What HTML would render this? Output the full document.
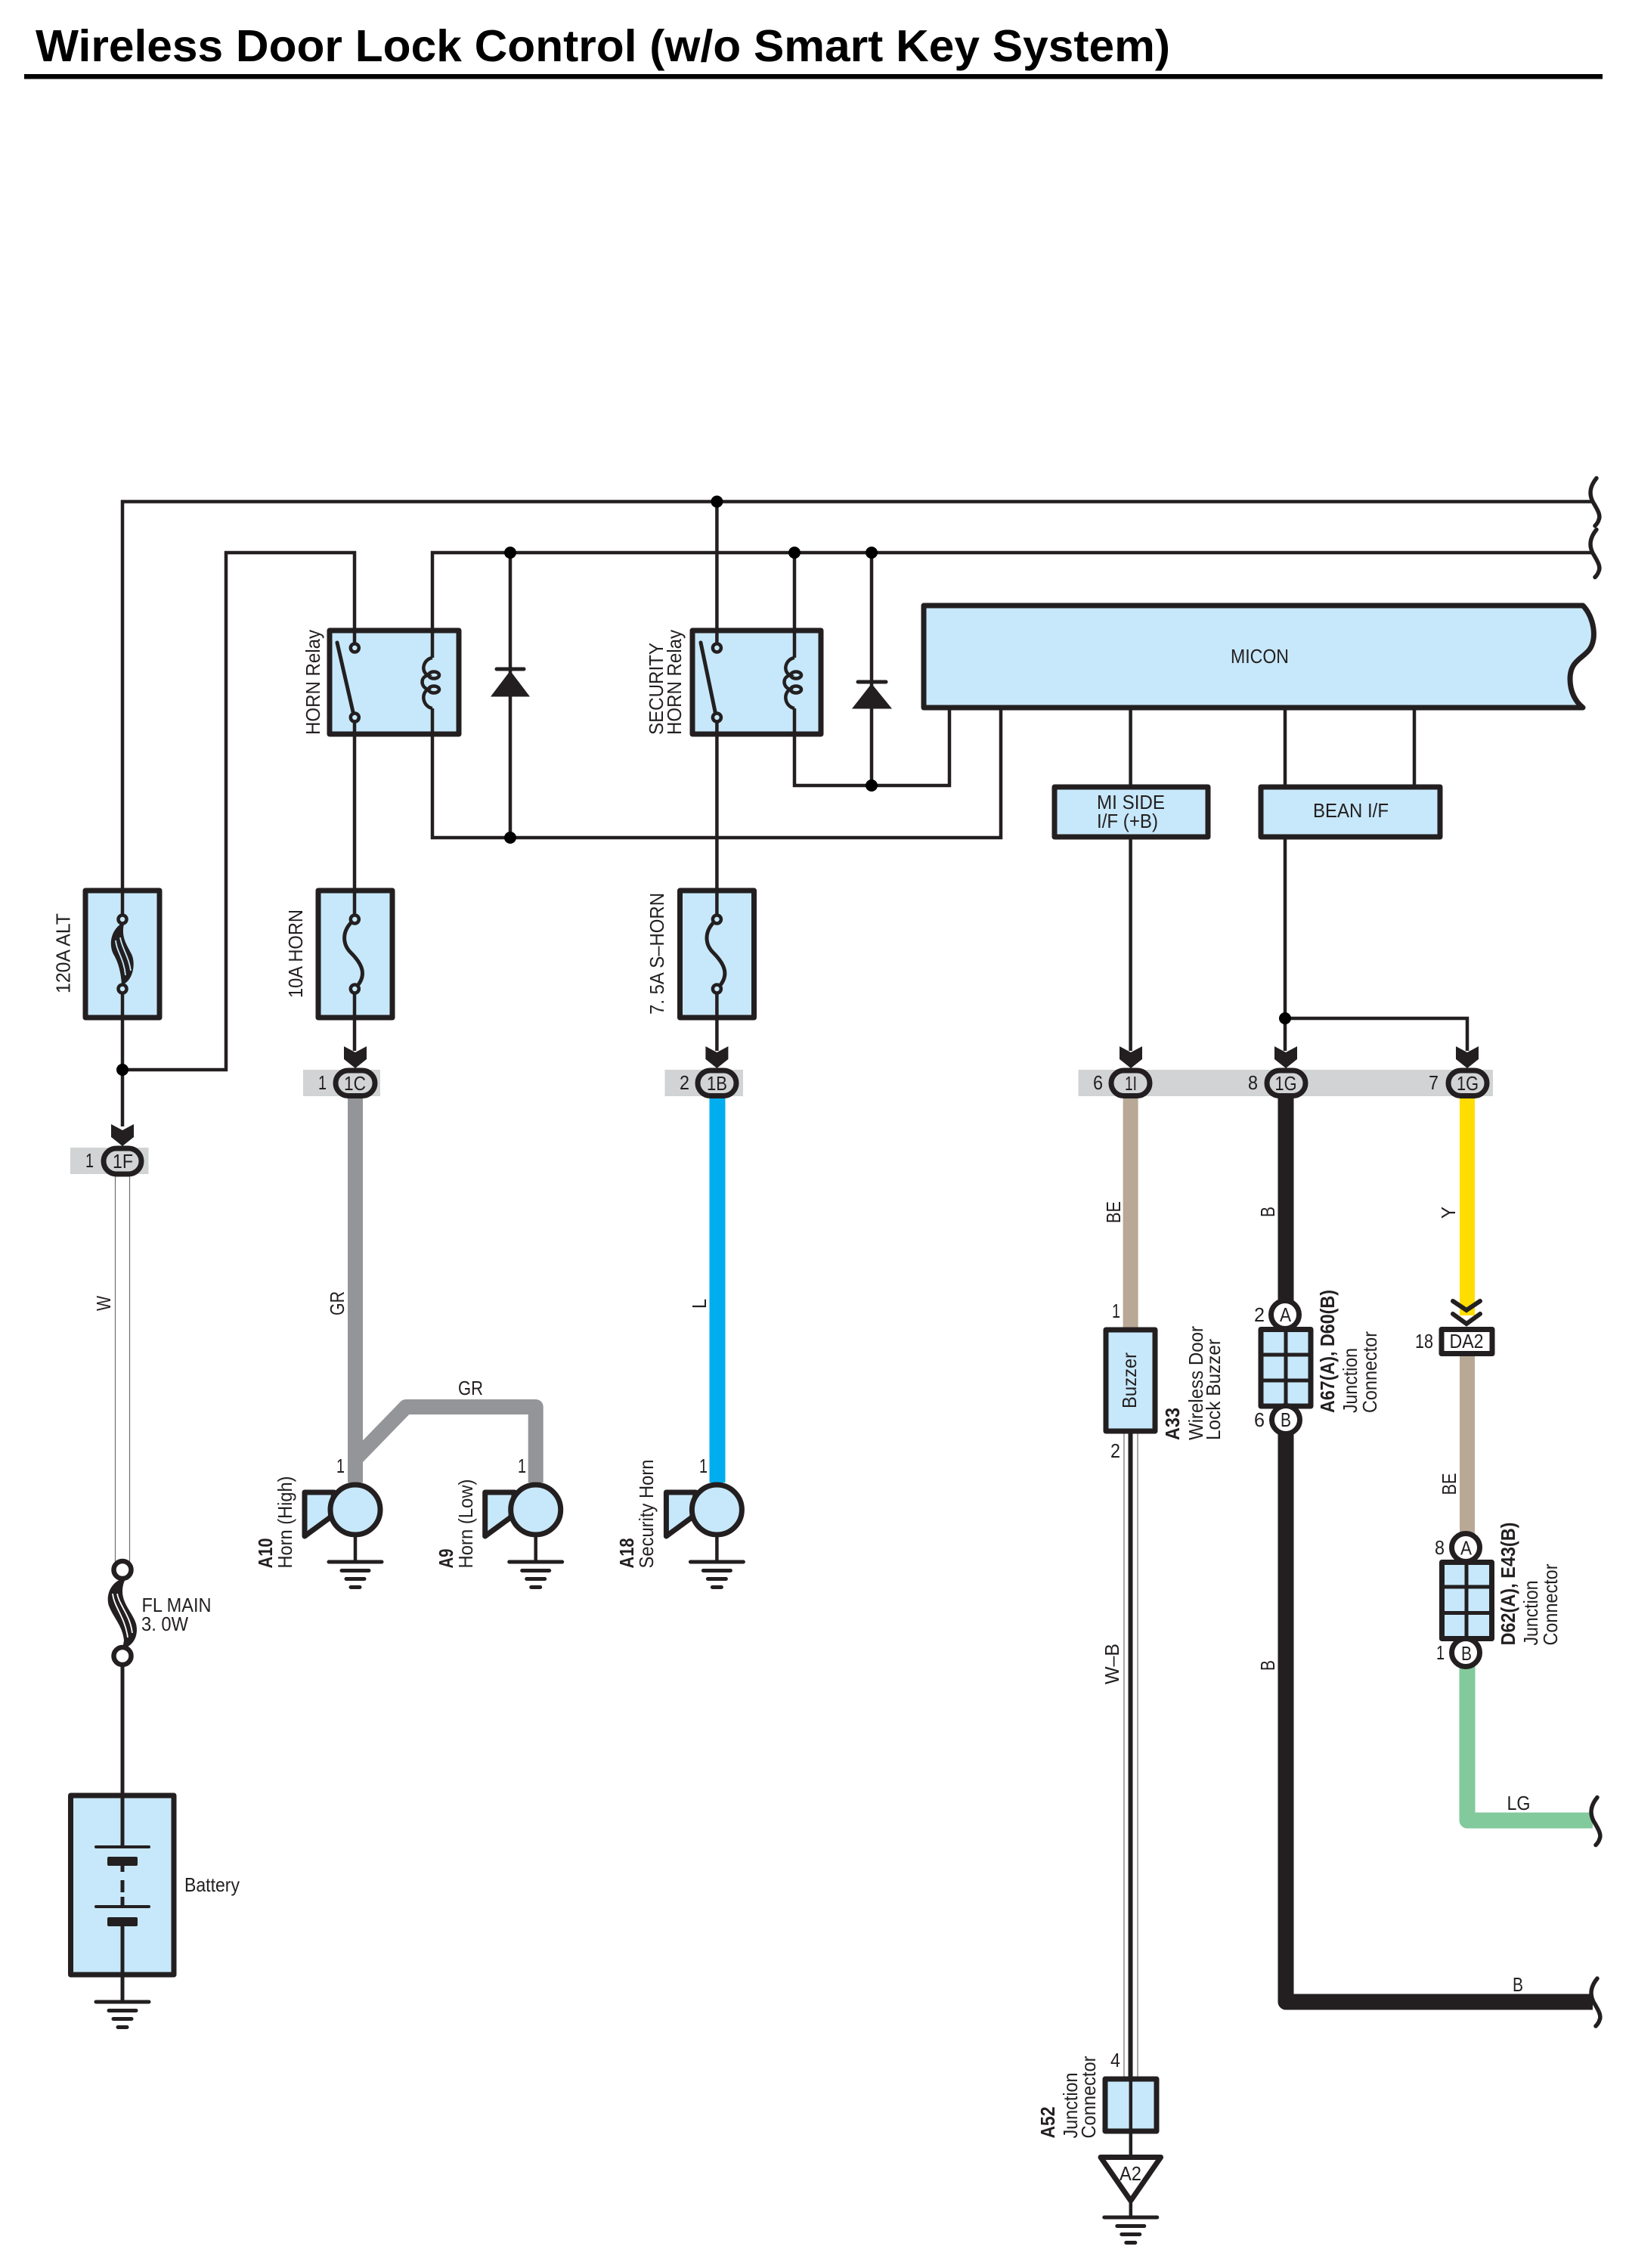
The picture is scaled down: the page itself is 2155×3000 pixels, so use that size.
<!DOCTYPE html>
<html><head><meta charset="utf-8"><title>Wireless Door Lock Control</title>
<style>
html,body{margin:0;padding:0;background:#fff}
svg{display:block}
text{font-family:"Liberation Sans",sans-serif;font-size:26px;fill:#231f20}
.b{font-weight:bold}
.w{fill:none;stroke:#231f20;stroke-width:4.500;stroke-linejoin:miter}
.box{fill:#c7e8fa;stroke:#231f20;stroke-width:7;stroke-linejoin:round}
.wb{fill:#fff;stroke:#231f20;stroke-width:7;stroke-linejoin:round}
.pill{fill:#d1d3d4;stroke:#231f20;stroke-width:7}
.t{fill:#c7e8fa;stroke:#231f20;stroke-width:4.500}
.br{fill:none;stroke:#231f20;stroke-width:5.500;stroke-linecap:round}
</style></head><body>
<svg width="2155" height="3000" viewBox="0 0 2155 3000" xmlns="http://www.w3.org/2000/svg">
<defs>
<g id="gnd" fill="none" stroke="#231f20" stroke-width="5" stroke-linecap="round">
<path d="M-35 0H35M-18 11.500H18M-12 22.500H12M-6 33.500H6"/>
</g>
<polygon id="arr" points="-15,0 0,8 15,0 15,17 0,29 -15,17" fill="#231f20"/>
<path id="brk" class="br" d="M2 -31C-7 -20 -8 -10 -3 0C3 10 8 18 5 24C4 28 2 30 0 32"/>
<g id="horn">
<polygon points="-67,-23 -28,-23 -33,10 -67,35" class="box"/>
<ellipse cx="0" cy="0" rx="33" ry="33" class="box"/>
</g>
</defs>

<!-- title -->
<text class="b" x="47" y="81" style="font-size:59px;fill:#000" textLength="1501" lengthAdjust="spacingAndGlyphs">Wireless Door Lock Control (w/o Smart Key System)</text>
<rect x="32" y="98" width="2088" height="6.500" fill="#000"/>

<!-- fuse / relay / component boxes -->
<rect class="box" x="436" y="834" width="171" height="137"/>
<rect class="box" x="916" y="834" width="170" height="137"/>
<path class="box" d="M1222 801H2094C2108 815 2114 845 2102 860C2092 872 2077 875 2077 898C2077 915 2084 928 2094 936H1222Z"/>
<rect class="box" x="1395" y="1041" width="203" height="66"/>
<rect class="box" x="1668" y="1041" width="237" height="66"/>
<rect class="box" x="113" y="1178" width="98" height="168"/>
<rect class="box" x="421" y="1178" width="98" height="168"/>
<rect class="box" x="899.500" y="1178" width="98" height="168"/>

<!-- grey bands -->
<rect x="93" y="1518" width="103.500" height="35" fill="#d1d3d4"/>
<rect x="401" y="1415" width="102" height="35" fill="#d1d3d4"/>
<rect x="879.500" y="1415" width="103.500" height="35" fill="#d1d3d4"/>
<rect x="1426.500" y="1415" width="548.500" height="35" fill="#d1d3d4"/>

<!-- thin wires -->
<path class="w" d="M162 1216V663.500H2108M469 857V731H299V1415H162M572 870V731H2108M572 937V1108H1324V936M948.400 663.500V857M948.400 949V1216M948.400 1308V1390M469 949V1216M469 1308V1390M162 1308V1490M675 731V1108M1051 731V870M1051 937V1039H1256V936M1153 731V1039M1495.600 936V1041M1495.600 1107V1390M1700 936V1041M1700 1107V1390M1871 936V1041M1700 1347H1941V1390"/>
<circle cx="948.400" cy="663.500" r="8"/>
<circle cx="675" cy="731" r="8"/><circle cx="1051" cy="731" r="8"/><circle cx="1153" cy="731" r="8"/>
<circle cx="675" cy="1108" r="8"/><circle cx="1153" cy="1039" r="8"/>
<circle cx="162" cy="1415" r="8"/><circle cx="1700" cy="1347" r="8"/>

<!-- diodes -->
<g fill="#231f20" stroke="#231f20"><path d="M657 885H693" stroke-width="5" stroke-linecap="round"/><polygon points="675,888 650,921 700,921" stroke-width="1"/>
<path d="M1135 902H1172" stroke-width="5" stroke-linecap="round"/><polygon points="1153,905 1128,937 1179,937" stroke-width="1"/></g>

<!-- relay switches -->
<path d="M446 850L468 946M927 850L947 946" fill="none" stroke="#231f20" stroke-width="5" stroke-linecap="round"/>
<circle class="t" cx="469.300" cy="857" r="5.500"/><circle class="t" cx="469.300" cy="949" r="5.500"/>
<circle class="t" cx="948.400" cy="857" r="5.500"/><circle class="t" cx="948.400" cy="949" r="5.500"/>
<!-- coils -->
<g fill="none" stroke="#231f20" stroke-width="4.500">
<path d="M572 870C560 872 556 888 566 893C556 896 556 908 566 912C556 918 560 935 572 937"/>
<ellipse cx="574" cy="893" rx="7" ry="4.500"/><ellipse cx="574" cy="912" rx="7" ry="4.500"/>
<path d="M1051 870C1039 872 1035 888 1045 893C1035 896 1035 908 1045 912C1035 918 1039 935 1051 937"/>
<ellipse cx="1053" cy="893" rx="7" ry="4.500"/><ellipse cx="1053" cy="912" rx="7" ry="4.500"/>
</g>

<!-- fuses -->
<g fill="none" stroke="#231f20" stroke-width="5">
<path d="M469 1216C450 1232 454 1250 464 1260C478 1274 488 1290 469 1308"/>
<path d="M948.400 1216C929.400 1232 933.400 1250 943.400 1260C957.400 1274 967.400 1290 948.400 1308"/>
</g>
<path d="M160 1222C146 1232 144 1250 150 1262C156 1272 160 1285 161 1303C176 1298 180 1275 174 1262C168 1250 160 1240 164 1222Z" fill="#231f20"/>
<path d="M153 1244C154 1258 164 1268 166 1290M159 1240C161 1254 170 1264 173 1284" fill="none" stroke="#c7e8fa" stroke-width="1.800"/>
<circle class="t" cx="469.300" cy="1216" r="5.500"/><circle class="t" cx="469.300" cy="1308" r="5.500"/>
<circle class="t" cx="948.400" cy="1216" r="5.500"/><circle class="t" cx="948.400" cy="1308" r="5.500"/>
<circle class="t" cx="162" cy="1216" r="5.500"/><circle class="t" cx="162" cy="1308" r="5.500"/>

<!-- arrows -->
<use href="#arr" x="470" y="1384"/><use href="#arr" x="948.400" y="1384"/>
<use href="#arr" x="1496" y="1384"/><use href="#arr" x="1701" y="1384"/><use href="#arr" x="1941" y="1384"/>
<use href="#arr" x="162" y="1487"/>

<!-- coloured wires -->
<path d="M470 1450V1961M470 1930L537 1861H708.700V1961" fill="none" stroke="#939598" stroke-width="20" stroke-linejoin="round"/>
<path d="M949 1450V1961" stroke="#00aeef" stroke-width="21" fill="none"/>
<path d="M1495.600 1450V1757" stroke="#b9a896" stroke-width="20" fill="none"/>
<path d="M1701 1450V1730" stroke="#231f20" stroke-width="21" fill="none"/>
<path d="M1701 1880V2648H2107" stroke="#231f20" stroke-width="21" fill="none" stroke-linejoin="round"/>
<path d="M1941 1450V1740" stroke="#ffdd00" stroke-width="20" fill="none"/>
<path d="M1941 1793V2030" stroke="#b9a896" stroke-width="20" fill="none"/>
<path d="M1941 2190V2408H2107" stroke="#82c99c" stroke-width="21" fill="none" stroke-linejoin="round"/>
<!-- white wires -->
<rect x="152.500" y="1553" width="19" height="512" fill="#fff" stroke="#6d6e71" stroke-width="1.200"/>
<rect x="1487" y="1893" width="18" height="857" fill="#fff" stroke="#6d6e71" stroke-width="1.200"/>
<path d="M1495.500 1893V2750" stroke="#231f20" stroke-width="6" fill="none"/>

<!-- pills -->
<rect class="pill" x="137" y="1519" width="50" height="34" rx="17"/>
<rect class="pill" x="444" y="1416" width="52" height="33.500" rx="16.700"/>
<rect class="pill" x="923" y="1416" width="51" height="33.500" rx="16.700"/>
<rect class="pill" x="1470" y="1416" width="51" height="33.500" rx="16.700"/>
<rect class="pill" x="1676" y="1416" width="51" height="33.500" rx="16.700"/>
<rect class="pill" x="1916" y="1416" width="51" height="33.500" rx="16.700"/>

<!-- horns -->
<use href="#horn" x="470" y="1997"/><use href="#horn" x="708.700" y="1997"/><use href="#horn" x="948.400" y="1997"/>
<path class="w" d="M470 2032V2066M708.700 2032V2066M948.400 2032V2066"/>
<use href="#gnd" x="470" y="2066"/><use href="#gnd" x="708.700" y="2066"/><use href="#gnd" x="948.400" y="2066"/>

<!-- FL main fuse -->
<path d="M160 2089C145 2095 140 2112 144 2124C150 2140 162 2150 164 2170L162 2181C175 2178 184 2165 180 2148C176 2134 162 2122 162 2105C162 2098 164 2092 166 2089Z" fill="#231f20"/>
<path d="M149 2108C151 2126 165 2138 169 2166M155 2108C158 2124 172 2136 175 2160" fill="none" stroke="#fff" stroke-width="1.800"/>
<circle cx="162" cy="2076.500" r="11.500" fill="#fff" stroke="#231f20" stroke-width="6.500"/>
<circle cx="162" cy="2190.500" r="11.500" fill="#fff" stroke="#231f20" stroke-width="6.500"/>

<!-- battery -->
<rect class="box" x="93.500" y="2375" width="136.500" height="237"/>
<path d="M162 2203V2443M162 2462V2476M162 2487V2503M162 2509V2522M162 2542V2648" stroke="#231f20" stroke-width="5" fill="none"/>
<path d="M127 2443H197M127 2522H197" stroke="#231f20" stroke-width="4" stroke-linecap="round"/>
<rect x="142" y="2456" width="40" height="12" rx="2" fill="#231f20"/>
<rect x="142" y="2536" width="40" height="12" rx="2" fill="#231f20"/>
<use href="#gnd" x="162" y="2648"/>

<!-- junction A67 -->
<rect class="box" x="1668" y="1758.500" width="66" height="101.500"/>
<path d="M1701 1758V1860M1668 1792H1734M1668 1826H1734" stroke="#231f20" stroke-width="5"/>
<circle class="wb" cx="1700" cy="1739" r="18.500"/>
<circle class="wb" cx="1701" cy="1878" r="18.500"/>
<!-- junction D62 -->
<rect class="box" x="1907.500" y="2066.500" width="66" height="101"/>
<path d="M1940 2066V2168M1907 2099H1973M1907 2133.500H1973" stroke="#231f20" stroke-width="5"/>
<circle class="wb" cx="1939" cy="2047" r="18.500"/>
<circle class="wb" cx="1939" cy="2186" r="18.500"/>
<!-- buzzer -->
<rect class="box" x="1463" y="1759" width="65" height="134"/>
<!-- chevrons -->
<path d="M1922 1721L1940 1733L1958 1721M1922 1738L1940 1751L1958 1738" fill="none" stroke="#231f20" stroke-width="6" stroke-linecap="round"/>
<rect class="wb" x="1907" y="1758.500" width="67" height="32"/>
<!-- A52 -->
<rect class="box" x="1462" y="2750" width="68" height="69"/>
<path d="M1495.800 2750V2853M1495.800 2911V2933" stroke="#231f20" stroke-width="4.500"/>
<polygon class="wb" points="1456,2853.500 1535.600,2853.500 1495.800,2911"/>
<use href="#gnd" x="1495.800" y="2933"/>

<!-- break marks -->
<use href="#brk" x="2110" y="663.500"/><use href="#brk" x="2110" y="731.500"/>
<use href="#brk" x="2111" y="2408.500"/><use href="#brk" x="2111" y="2648"/>

<!-- horizontal labels -->
<text x="1628" y="877" textLength="77" lengthAdjust="spacingAndGlyphs">MICON</text>
<text x="1451" y="1070" textLength="90" lengthAdjust="spacingAndGlyphs">MI SIDE</text>
<text x="1451" y="1095" textLength="81" lengthAdjust="spacingAndGlyphs">I/F (+B)</text>
<text x="1737" y="1081" textLength="100" lengthAdjust="spacingAndGlyphs">BEAN I/F</text>
<text x="149" y="1545" textLength="27" lengthAdjust="spacingAndGlyphs">1F</text>
<text x="455" y="1442" textLength="29" lengthAdjust="spacingAndGlyphs">1C</text>
<text x="935" y="1442" textLength="27" lengthAdjust="spacingAndGlyphs">1B</text>
<text x="1488" y="1442" textLength="16" lengthAdjust="spacingAndGlyphs">1I</text>
<text x="1686.500" y="1442" textLength="29" lengthAdjust="spacingAndGlyphs">1G</text>
<text x="1927" y="1442" textLength="29" lengthAdjust="spacingAndGlyphs">1G</text>
<text x="1917.500" y="1783" textLength="45" lengthAdjust="spacingAndGlyphs">DA2</text>
<text x="1693" y="1748" textLength="15" lengthAdjust="spacingAndGlyphs">A</text>
<text x="1694" y="1887" textLength="14" lengthAdjust="spacingAndGlyphs">B</text>
<text x="1932" y="2056.500" textLength="15" lengthAdjust="spacingAndGlyphs">A</text>
<text x="1933" y="2196" textLength="14" lengthAdjust="spacingAndGlyphs">B</text>
<text x="1481" y="2884" textLength="29" lengthAdjust="spacingAndGlyphs">A2</text>
<text x="187.500" y="2132" textLength="92" lengthAdjust="spacingAndGlyphs">FL MAIN</text>
<text x="187" y="2157" textLength="62" lengthAdjust="spacingAndGlyphs">3. 0W</text>
<text x="244" y="2502" textLength="73" lengthAdjust="spacingAndGlyphs">Battery</text>
<text x="606" y="1845" textLength="33" lengthAdjust="spacingAndGlyphs">GR</text>
<text x="1993.500" y="2394" textLength="31" lengthAdjust="spacingAndGlyphs">LG</text>
<text x="2001" y="2634" textLength="14" lengthAdjust="spacingAndGlyphs">B</text>

<!-- pin numbers -->
<g>
<text x="113" y="1544" textLength="11" lengthAdjust="spacingAndGlyphs">1</text>
<text x="421" y="1441" textLength="11" lengthAdjust="spacingAndGlyphs">1</text>
<text x="899" y="1441" textLength="13" lengthAdjust="spacingAndGlyphs">2</text>
<text x="1446" y="1441" textLength="13" lengthAdjust="spacingAndGlyphs">6</text>
<text x="1651" y="1441" textLength="13" lengthAdjust="spacingAndGlyphs">8</text>
<text x="1890" y="1441" textLength="13" lengthAdjust="spacingAndGlyphs">7</text>
<text x="445" y="1948" textLength="11" lengthAdjust="spacingAndGlyphs">1</text>
<text x="685" y="1948" textLength="11" lengthAdjust="spacingAndGlyphs">1</text>
<text x="925" y="1948" textLength="11" lengthAdjust="spacingAndGlyphs">1</text>
<text x="1471" y="1743" textLength="11" lengthAdjust="spacingAndGlyphs">1</text>
<text x="1469" y="1928" textLength="13" lengthAdjust="spacingAndGlyphs">2</text>
<text x="1659" y="1748" textLength="14" lengthAdjust="spacingAndGlyphs">2</text>
<text x="1659" y="1887" textLength="14" lengthAdjust="spacingAndGlyphs">6</text>
<text x="1872" y="1783" textLength="24" lengthAdjust="spacingAndGlyphs">18</text>
<text x="1898" y="2056" textLength="13" lengthAdjust="spacingAndGlyphs">8</text>
<text x="1900" y="2195" textLength="11" lengthAdjust="spacingAndGlyphs">1</text>
<text x="1469" y="2734" textLength="13" lengthAdjust="spacingAndGlyphs">4</text>
</g>

<!-- rotated labels -->
<text transform="translate(92.500,1314) rotate(-90)" textLength="106" lengthAdjust="spacingAndGlyphs">120A ALT</text>
<text transform="translate(400,1320) rotate(-90)" textLength="117" lengthAdjust="spacingAndGlyphs">10A HORN</text>
<text transform="translate(878,1342) rotate(-90)" textLength="161" lengthAdjust="spacingAndGlyphs">7. 5A S–HORN</text>
<text transform="translate(423,972) rotate(-90)" textLength="139" lengthAdjust="spacingAndGlyphs">HORN Relay</text>
<text transform="translate(877,972) rotate(-90)" textLength="122" lengthAdjust="spacingAndGlyphs">SECURITY</text>
<text transform="translate(901,972) rotate(-90)" textLength="139" lengthAdjust="spacingAndGlyphs">HORN Relay</text>
<text transform="translate(146,1734) rotate(-90)" textLength="20" lengthAdjust="spacingAndGlyphs">W</text>
<text transform="translate(455,1740) rotate(-90)" textLength="32" lengthAdjust="spacingAndGlyphs">GR</text>
<text transform="translate(934,1731) rotate(-90)" textLength="13" lengthAdjust="spacingAndGlyphs">L</text>
<text class="b" transform="translate(360,2074.500) rotate(-90)" textLength="40" lengthAdjust="spacingAndGlyphs">A10</text>
<text transform="translate(386,2074.500) rotate(-90)" textLength="122" lengthAdjust="spacingAndGlyphs">Horn (High)</text>
<text class="b" transform="translate(599,2074.500) rotate(-90)" textLength="26" lengthAdjust="spacingAndGlyphs">A9</text>
<text transform="translate(625,2074.500) rotate(-90)" textLength="118" lengthAdjust="spacingAndGlyphs">Horn (Low)</text>
<text class="b" transform="translate(838,2074.500) rotate(-90)" textLength="40" lengthAdjust="spacingAndGlyphs">A18</text>
<text transform="translate(864,2074.500) rotate(-90)" textLength="144" lengthAdjust="spacingAndGlyphs">Security Horn</text>
<text transform="translate(1482,1618) rotate(-90)" textLength="29" lengthAdjust="spacingAndGlyphs">BE</text>
<text transform="translate(1686,1610) rotate(-90)" textLength="14" lengthAdjust="spacingAndGlyphs">B</text>
<text transform="translate(1925,1612) rotate(-90)" textLength="16" lengthAdjust="spacingAndGlyphs">Y</text>
<text transform="translate(1926,1977.500) rotate(-90)" textLength="29" lengthAdjust="spacingAndGlyphs">BE</text>
<text transform="translate(1686,2210) rotate(-90)" textLength="14" lengthAdjust="spacingAndGlyphs">B</text>
<text transform="translate(1480,2228) rotate(-90)" textLength="54" lengthAdjust="spacingAndGlyphs">W–B</text>
<text transform="translate(1503,1863) rotate(-90)" textLength="74" lengthAdjust="spacingAndGlyphs">Buzzer</text>
<text class="b" transform="translate(1560,1905) rotate(-90)" textLength="43" lengthAdjust="spacingAndGlyphs">A33</text>
<text transform="translate(1591,1905) rotate(-90)" textLength="151" lengthAdjust="spacingAndGlyphs">Wireless Door</text>
<text transform="translate(1614,1905) rotate(-90)" textLength="134" lengthAdjust="spacingAndGlyphs">Lock Buzzer</text>
<text class="b" transform="translate(1765,1869) rotate(-90)" textLength="163" lengthAdjust="spacingAndGlyphs">A67(A), D60(B)</text>
<text transform="translate(1795,1869) rotate(-90)" textLength="86" lengthAdjust="spacingAndGlyphs">Junction</text>
<text transform="translate(1821,1869) rotate(-90)" textLength="108" lengthAdjust="spacingAndGlyphs">Connector</text>
<text class="b" transform="translate(2004,2176.500) rotate(-90)" textLength="163" lengthAdjust="spacingAndGlyphs">D62(A), E43(B)</text>
<text transform="translate(2034,2176.500) rotate(-90)" textLength="86" lengthAdjust="spacingAndGlyphs">Junction</text>
<text transform="translate(2060,2176.500) rotate(-90)" textLength="108" lengthAdjust="spacingAndGlyphs">Connector</text>
<text class="b" transform="translate(1395,2828.500) rotate(-90)" textLength="42" lengthAdjust="spacingAndGlyphs">A52</text>
<text transform="translate(1425,2828.500) rotate(-90)" textLength="87" lengthAdjust="spacingAndGlyphs">Junction</text>
<text transform="translate(1449,2828.500) rotate(-90)" textLength="109" lengthAdjust="spacingAndGlyphs">Connector</text>
</svg>
</body></html>
